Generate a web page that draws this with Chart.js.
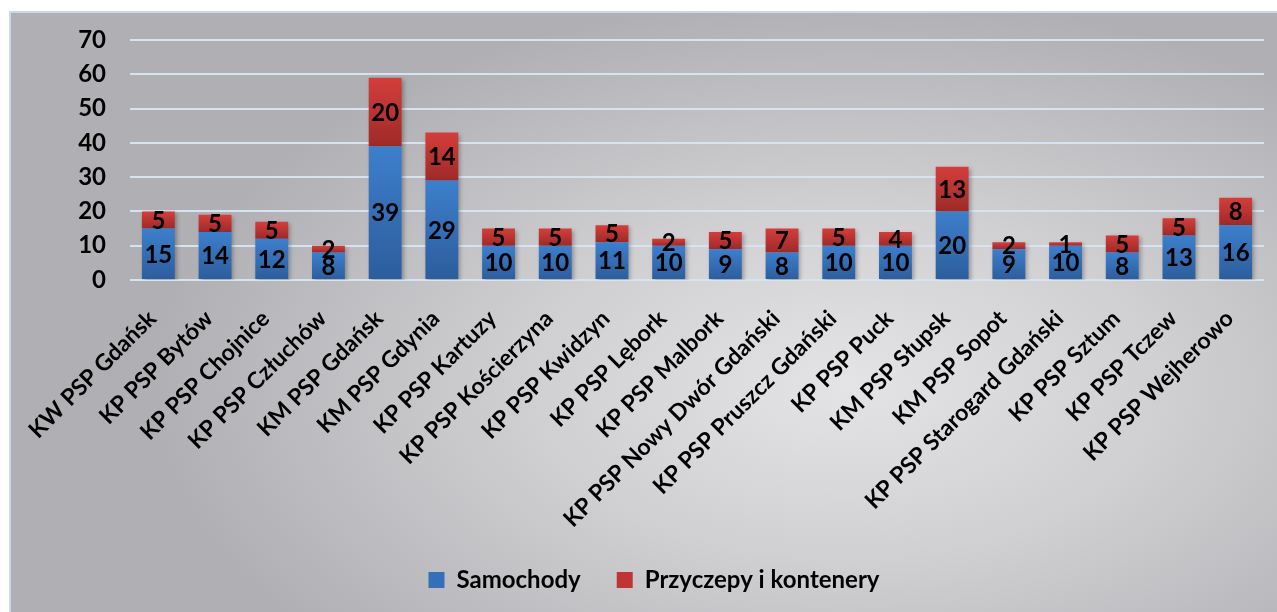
<!DOCTYPE html>
<html>
<head>
<meta charset="utf-8">
<script src="https://cdn.jsdelivr.net/npm/chart.js@4"></script>
<style>
  html, body { margin: 0; padding: 0; background: #ffffff; }
  .frame {
    position: absolute;
    left: 9px; top: 11px;
    width: 1268px; height: 601px;
    box-sizing: border-box;
    border-top: 2px solid #c9d9ea;
    border-left: 2px solid #c9d9ea;
    background: radial-gradient(ellipse 55% 65% at 66% 62%, #e4e4e6 0%, #d0d0d3 45%, #b0b0b4 100%);
  }
  canvas { display: block; }
</style>
</head>
<body>
<div class="frame">
  <canvas id="fleetChart" width="1266" height="599"></canvas>
</div>
<script>
// DATA
const units = [
    "KW PSP Gdańsk", "KP PSP Bytów", "KP PSP Chojnice", "KP PSP Człuchów",
    "KM PSP Gdańsk", "KM PSP Gdynia", "KP PSP Kartuzy", "KP PSP Kościerzyna",
    "KP PSP Kwidzyn", "KP PSP Lębork", "KP PSP Malbork", "KP PSP Nowy Dwór Gdański",
    "KP PSP Pruszcz Gdański", "KP PSP Puck", "KM PSP Słupsk", "KM PSP Sopot",
    "KP PSP Starogard Gdański", "KP PSP Sztum", "KP PSP Tczew", "KP PSP Wejherowo"
];
const cars = [15, 14, 12, 8, 39, 29, 10, 10, 11, 10, 9, 8, 10, 10, 20, 9, 10, 8, 13, 16];
const trailers = [5, 5, 5, 2, 20, 14, 5, 5, 5, 2, 5, 7, 5, 4, 13, 2, 1, 5, 5, 8];
const yTicks = [0, 10, 20, 30, 40, 50, 60, 70];

const FONT = "Lato, 'Open Sans', sans-serif";

// vertical gradient for every bar segment
function barFill(top, bottom) {
    return function (context) {
        const chart = context.chart;
        if (context.type !== "data" || !chart.chartArea) return top;
        const y = chart.scales.y;
        let start = 0;
        for (let d = 0; d < context.datasetIndex; d++) {
            start += chart.data.datasets[d].data[context.dataIndex];
        }
        const end = start + context.raw;
        const yTop = y.getPixelForValue(end);
        const yBottom = y.getPixelForValue(start);
        const g = chart.ctx.createLinearGradient(0, yTop, 0, yBottom);
        g.addColorStop(0, top);
        g.addColorStop(1, bottom);
        return g;
    };
}

// numbers inside the bars
const barLabels = {
    id: "barLabels",
    afterDatasetsDraw(chart) {
        const ctx = chart.ctx;
        ctx.save();
        ctx.font = "bold 24px " + FONT;
        ctx.fillStyle = "#000000";
        ctx.textAlign = "center";
        ctx.textBaseline = "middle";
        chart.data.datasets.forEach((ds, i) => {
            chart.getDatasetMeta(i).data.forEach((bar, j) => {
                const mid = (bar.y + bar.base) / 2;
                ctx.fillText(String(ds.data[j]), bar.x, mid + 1);
            });
        });
        ctx.restore();
    }
};

// soft shadow under the bars
const barShadow = {
    id: "barShadow",
    beforeDatasetsDraw(chart) {
        const ctx = chart.ctx;
        ctx.save();
        ctx.shadowColor = "rgba(0,0,0,0.28)";
        ctx.shadowBlur = 4;
        ctx.shadowOffsetX = 2;
        ctx.shadowOffsetY = 2;
    },
    afterDatasetsDraw(chart) {
        chart.ctx.restore();
    }
};

const fleetCtx = document.getElementById("fleetChart").getContext("2d");
new Chart(fleetCtx, {
    type: "bar",
    data: {
        labels: units,
        datasets: [
            {
                label: "Samochody",
                data: cars,
                backgroundColor: barFill("#3d7fcc", "#2c5d9c"),
                borderWidth: 0,
                categoryPercentage: 1,
                barPercentage: 0.58
            },
            {
                label: "Przyczepy i kontenery",
                data: trailers,
                backgroundColor: barFill("#d43e3b", "#9e2a28"),
                borderWidth: 0,
                categoryPercentage: 1,
                barPercentage: 0.58
            }
        ]
    },
    options: {
        responsive: false,
        animation: false,
        layout: {
            padding: { top: 27, right: 13, left: 33, bottom: 10 }
        },
        plugins: {
            tooltip: { enabled: false },
            legend: {
                position: "bottom",
                labels: {
                    color: "#000000",
                    font: { family: FONT, size: 24, weight: "bold" },
                    boxWidth: 16,
                    boxHeight: 16,
                    padding: 36,
                    generateLabels() {
                        return [
                            { text: "Samochody", fillStyle: "#3370b8", strokeStyle: "#3370b8", lineWidth: 0, datasetIndex: 0 },
                            { text: "Przyczepy i kontenery", fillStyle: "#c03533", strokeStyle: "#c03533", lineWidth: 0, datasetIndex: 1 }
                        ];
                    }
                }
            }
        },
        scales: {
            x: {
                stacked: true,
                grid: { display: false },
                border: { display: false },
                ticks: {
                    color: "#000000",
                    font: { family: FONT, size: 23, weight: "bold" },
                    maxRotation: 45,
                    minRotation: 45,
                    autoSkip: false,
                    padding: 17,
                    labelOffset: -6
                },
                afterFit(scale) { scale.height = 252; }
            },
            y: {
                stacked: true,
                min: 0,
                max: 70,
                afterBuildTicks(scale) {
                    scale.ticks = yTicks.map(v => ({ value: v }));
                },
                grid: { color: "#d6e3f1", lineWidth: 2, drawTicks: false },
                border: { display: false },
                ticks: {
                    color: "#000000",
                    font: { family: FONT, size: 24, weight: "bold" },
                    padding: 24
                },
                afterFit(scale) {
                    scale.width = 86;
                    scale.paddingTop = 0;
                    scale.paddingBottom = 0;
                }
            }
        }
    },
    plugins: [barShadow, barLabels]
});
</script>
</body>
</html>
